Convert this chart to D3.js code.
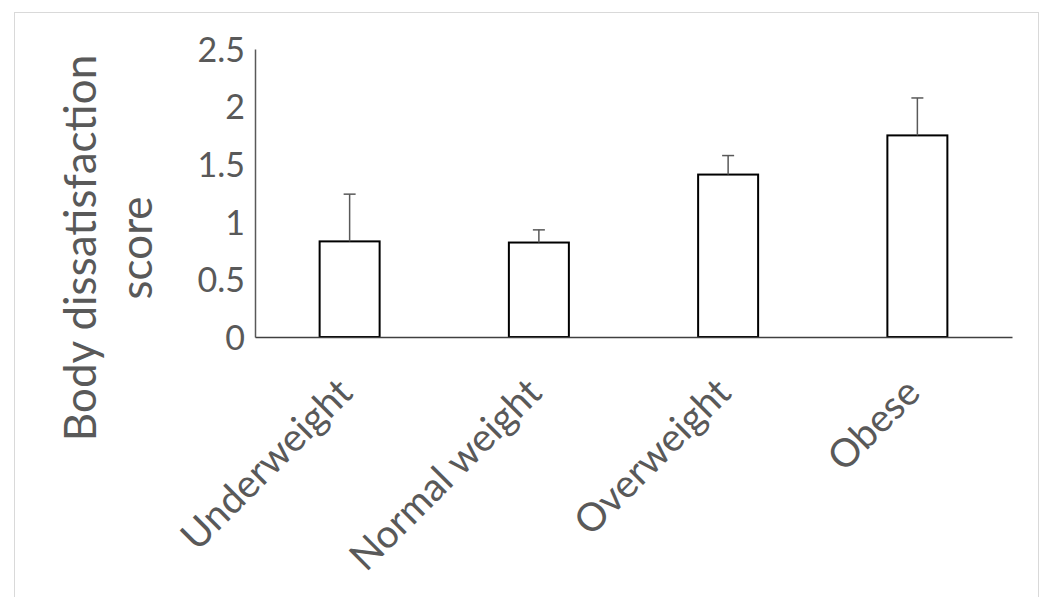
<!DOCTYPE html>
<html>
<head>
<meta charset="utf-8">
<script src="https://cdn.jsdelivr.net/npm/d3@7"></script>
<style>
  html, body { margin: 0; padding: 0; background: #ffffff; }
  svg { display: block; }
  text { font-family: Lato, "Open Sans", sans-serif; fill: #595959; }
</style>
</head>
<body>
<svg id="chart" width="1043" height="597"></svg>
<script>
// ---- data ----
const categories = ["Underweight", "Normal weight", "Overweight", "Obese"];
const means = [0.83, 0.82, 1.41, 1.75];
const errors = [0.41, 0.11, 0.165, 0.325];
const yTicks = [0, 0.5, 1, 1.5, 2, 2.5];
const yTitleLines = ["Body dissatisfaction", "score"];

// ---- layout ----
const W = 1043, H = 597;
const plot = { left: 255, right: 1012, top: 49, bottom: 337 };

const svg = d3.select("#chart");

// outer chart frame
svg.append("rect")
  .attr("x", 14.5).attr("y", 12.5)
  .attr("width", 1024).attr("height", 620)
  .attr("fill", "#ffffff")
  .attr("stroke", "#d9d9d9").attr("stroke-width", 1);

const x = d3.scaleBand()
  .domain(categories)
  .range([plot.left, plot.right])
  .paddingInner(0.683)
  .paddingOuter(0.3415);

const y = d3.scaleLinear()
  .domain([0, 2.5])
  .range([plot.bottom, plot.top]);

// y axis (line + labels, no tick marks)
const yAxis = d3.axisLeft(y)
  .tickValues(yTicks)
  .tickSize(0)
  .tickPadding(10)
  .tickFormat(d => String(d));
const gy = svg.append("g")
  .attr("transform", `translate(${plot.left},0)`)
  .call(yAxis);
gy.select(".domain").attr("stroke", "#595959").attr("stroke-width", 1.5);
gy.selectAll(".tick text")
  .attr("font-family", "Lato, 'Open Sans', sans-serif")
  .attr("font-size", 34)
  .attr("fill", "#7f7f7f")
  .attr("dy", "0.36em");

// bars
svg.append("g").selectAll("rect")
  .data(categories)
  .join("rect")
  .attr("x", d => x(d))
  .attr("y", (d, i) => y(means[i]))
  .attr("width", x.bandwidth())
  .attr("height", (d, i) => y(0) - y(means[i]))
  .attr("fill", "#ffffff")
  .attr("stroke", "#000000")
  .attr("stroke-width", 2);

// error bars (upper only)
const eb = svg.append("g").attr("stroke", "#595959").attr("stroke-width", 1.5);
eb.selectAll("line.stem")
  .data(categories)
  .join("line")
  .attr("class", "stem")
  .attr("x1", d => x(d) + x.bandwidth() / 2)
  .attr("x2", d => x(d) + x.bandwidth() / 2)
  .attr("y1", (d, i) => y(means[i]))
  .attr("y2", (d, i) => y(means[i] + errors[i]));
eb.selectAll("line.cap")
  .data(categories)
  .join("line")
  .attr("class", "cap")
  .attr("x1", d => x(d) + x.bandwidth() / 2 - 6)
  .attr("x2", d => x(d) + x.bandwidth() / 2 + 6)
  .attr("y1", (d, i) => y(means[i] + errors[i]))
  .attr("y2", (d, i) => y(means[i] + errors[i]));

// x axis
const xAxis = d3.axisBottom(x).tickSize(0).tickPadding(0);
const gx = svg.append("g")
  .attr("transform", `translate(0,${plot.bottom})`)
  .call(xAxis);
gx.select(".domain").attr("stroke", "#404040").attr("stroke-width", 1.5);
gx.selectAll(".tick text")
  .attr("font-family", "Lato, 'Open Sans', sans-serif")
  .attr("font-size", 39)
  .attr("fill", "#595959")
  .attr("text-anchor", "end")
  .attr("dy", null)
  .attr("y", 0)
  .attr("transform", "translate(5,58) rotate(-45)");

// y title
const title = svg.append("text")
  .attr("transform", "translate(96,248) rotate(-90)")
  .attr("text-anchor", "middle")
  .attr("font-size", 44)
  .attr("fill", "#7a7a7a");
title.selectAll("tspan")
  .data(yTitleLines)
  .join("tspan")
  .attr("x", 0)
  .attr("dy", (d, i) => i === 0 ? 0 : 56)
  .text(d => d);
</script>
</body>
</html>
